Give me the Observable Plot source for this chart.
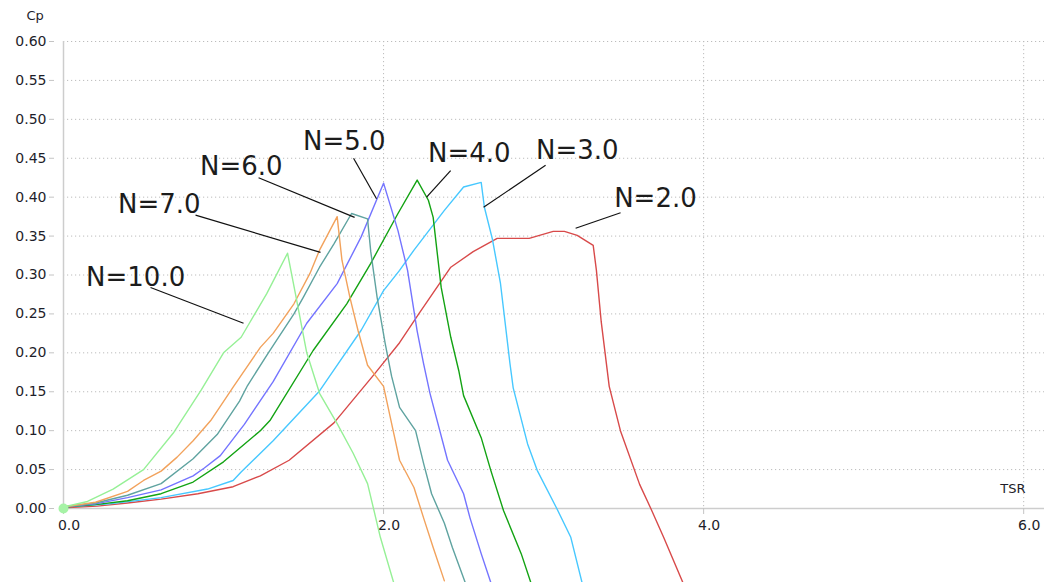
<!DOCTYPE html>
<html><head><meta charset="utf-8">
<script src="https://cdn.jsdelivr.net/npm/d3@7"></script>
<script src="https://cdn.jsdelivr.net/npm/@observablehq/plot@0.6"></script>
<style>html,body{margin:0;padding:0;background:#fff;overflow:hidden}</style>
</head><body><div id="chart"></div>
<script>
// ---- data ----
const seriesNames  = ["N=2.0", "N=3.0", "N=4.0", "N=5.0", "N=6.0", "N=7.0", "N=10.0"];
const seriesColors = ["#d84a4a", "#47c8ff", "#13a313", "#7474ff", "#5fa3a0", "#f2a25c", "#96f096"];

const tsr2 = [0, 0.21, 0.4, 0.61, 0.84, 1.06, 1.23, 1.41, 1.69, 1.94, 2.1, 2.22, 2.42, 2.56, 2.71, 2.91, 3.06, 3.13, 3.21, 3.31, 3.33, 3.36, 3.41, 3.48, 3.6, 3.67, 3.75, 3.87];
const cp2  = [0.001, 0.003, 0.007, 0.012, 0.019, 0.028, 0.042, 0.062, 0.11, 0.172, 0.213, 0.25, 0.31, 0.33, 0.347, 0.347, 0.356, 0.356, 0.351, 0.338, 0.306, 0.24, 0.157, 0.1, 0.031, 0, -0.037, -0.095];

const tsr3 = [0, 0.29, 0.61, 0.9, 1.06, 1.11, 1.31, 1.6, 1.69, 1.86, 2.0, 2.1, 2.19, 2.38, 2.5, 2.61, 2.63, 2.68, 2.73, 2.79, 2.81, 2.9, 2.96, 3.08, 3.17, 3.24];
const cp3  = [0.002, 0.006, 0.014, 0.025, 0.036, 0.047, 0.087, 0.151, 0.178, 0.229, 0.28, 0.306, 0.332, 0.383, 0.413, 0.419, 0.387, 0.346, 0.29, 0.186, 0.155, 0.083, 0.049, 0.001, -0.037, -0.095];

const tsr4 = [0, 0.2, 0.4, 0.61, 0.81, 1.0, 1.23, 1.29, 1.56, 1.77, 1.92, 2.09, 2.21, 2.28, 2.31, 2.36, 2.42, 2.47, 2.5, 2.61, 2.67, 2.75, 2.86, 2.92];
const cp4  = [0.002, 0.005, 0.01, 0.019, 0.034, 0.06, 0.1, 0.113, 0.203, 0.263, 0.315, 0.379, 0.422, 0.396, 0.374, 0.284, 0.22, 0.177, 0.145, 0.091, 0.049, -0.003, -0.058, -0.095];

const tsr5 = [0, 0.2, 0.4, 0.61, 0.81, 0.88, 0.98, 1.13, 1.31, 1.52, 1.71, 1.86, 2.0, 2.09, 2.15, 2.21, 2.25, 2.29, 2.4, 2.5, 2.54, 2.61, 2.67];
const cp5  = [0.002, 0.006, 0.014, 0.024, 0.042, 0.052, 0.068, 0.108, 0.163, 0.238, 0.289, 0.349, 0.418, 0.357, 0.306, 0.228, 0.186, 0.148, 0.062, 0.019, -0.012, -0.058, -0.095];

const tsr6 = [0, 0.2, 0.4, 0.61, 0.81, 0.96, 1.1, 1.15, 1.28, 1.44, 1.5, 1.6, 1.69, 1.8, 1.9, 1.92, 1.96, 2.01, 2.05, 2.1, 2.2, 2.25, 2.3, 2.38, 2.43, 2.51];
const cp6  = [0.002, 0.007, 0.017, 0.032, 0.064, 0.095, 0.138, 0.158, 0.2, 0.25, 0.272, 0.31, 0.34, 0.379, 0.372, 0.33, 0.271, 0.212, 0.17, 0.13, 0.1, 0.058, 0.019, -0.019, -0.05, -0.095];

const tsr7 = [0, 0.2, 0.4, 0.5, 0.61, 0.71, 0.81, 0.92, 1.06, 1.23, 1.31, 1.44, 1.54, 1.6, 1.71, 1.74, 1.79, 1.84, 1.9, 2.0, 2.06, 2.1, 2.19, 2.25, 2.31, 2.38];
const cp7  = [0.002, 0.008, 0.022, 0.036, 0.048, 0.066, 0.087, 0.113, 0.156, 0.207, 0.225, 0.263, 0.302, 0.332, 0.375, 0.319, 0.271, 0.229, 0.184, 0.157, 0.1, 0.062, 0.027, -0.012, -0.05, -0.093];

const tsr10 = [0, 0.15, 0.31, 0.5, 0.69, 0.86, 1.0, 1.11, 1.27, 1.4, 1.45, 1.52, 1.6, 1.71, 1.81, 1.9, 1.98, 2.07];
const cp10  = [0.002, 0.009, 0.025, 0.05, 0.098, 0.152, 0.2, 0.22, 0.276, 0.328, 0.275, 0.2, 0.148, 0.109, 0.071, 0.032, -0.037, -0.1];

const originTSR = [0];
const originCp  = [0];

// axis ticks
const yTicks = [0, 0.05, 0.1, 0.15, 0.2, 0.25, 0.3, 0.35, 0.4, 0.45, 0.5, 0.55, 0.6];
const xTicks = [0, 2, 4, 6];
const xGrid  = [2, 4, 6];

// annotations: label text, label anchor, leader line from/to
const labelText = ["N=10.0", "N=7.0", "N=6.0", "N=5.0", "N=4.0", "N=3.0", "N=2.0"];
const labelX    = [0.141, 0.341, 0.853, 1.497, 2.278, 2.953, 3.441];
const labelY    = [0.286, 0.380, 0.429, 0.461, 0.445, 0.449, 0.3875];
const leaderX1  = [0.544, 0.825, 1.219, 1.8125, 2.419, 3.0125, 3.481];
const leaderY1  = [0.284, 0.377, 0.425, 0.450, 0.434, 0.441, 0.380];
const leaderX2  = [1.125, 1.606, 1.819, 1.956, 2.269, 2.625, 3.2];
const leaderY2  = [0.238, 0.329, 0.374, 0.398, 0.400, 0.387, 0.360];

// ---- build tables ----
const seriesTSR = [tsr2, tsr3, tsr4, tsr5, tsr6, tsr7, tsr10];
const seriesCp  = [cp2, cp3, cp4, cp5, cp6, cp7, cp10];
const rows = seriesNames.flatMap((name, k) => seriesTSR[k].map((t, i) => ({series: name, tsr: t, cp: seriesCp[k][i]})));
const labels = labelText.map((t, i) => ({text: t, x: labelX[i], y: labelY[i], x1: leaderX1[i], y1: leaderY1[i], x2: leaderX2[i], y2: leaderY2[i]}));
const origin = originTSR.map((t, i) => ({tsr: t, cp: originCp[i]}));

const chart = Plot.plot({
  width: 1044, height: 582,
  marginLeft: 63, marginRight: 0, marginTop: 41, marginBottom: 74,
  style: {fontFamily: "DejaVu Sans", fontSize: "14px", color: "#1e1e2a", background: "#fff", overflow: "hidden"},
  x: {domain: [0, 6.13]},
  y: {domain: [0, 0.6]},
  color: {domain: seriesNames, range: seriesColors},
  marks: [
    Plot.gridY(yTicks.filter(d => d > 0), {stroke: "#bcbcbc", strokeOpacity: 1, strokeDasharray: "1.2,2.8"}),
    Plot.gridX(xGrid, {stroke: "#bcbcbc", strokeOpacity: 1, strokeDasharray: "1.2,2.8"}),
    Plot.ruleY([0], {stroke: "#cdcdcd", strokeWidth: 1.5}),
    Plot.ruleX([0], {stroke: "#cdcdcd", strokeWidth: 1.5}),
    Plot.axisY(yTicks, {tickSize: 5, tickPadding: 3, dx: -9, stroke: "#c4c4c4", tickFormat: d3.format(".2f"), label: null}),
    Plot.axisX(xTicks, {tickSize: 6, stroke: "#c4c4c4", tickFormat: () => "", label: null}),
    Plot.axisX(xTicks, {tickSize: 0, tickPadding: 12, dx: 5.5, tickFormat: d3.format(".1f"), label: null}),
    Plot.text(["Cp"], {frameAnchor: "top-left", dx: -37, dy: -26, textAnchor: "start", lineAnchor: "middle", fontSize: 13}),
    Plot.text(["TSR"], {frameAnchor: "bottom-right", dx: -19, dy: -20, textAnchor: "end", lineAnchor: "middle", fontSize: 13}),
    Plot.line(rows, {x: "tsr", y: "cp", z: "series", stroke: "series", strokeWidth: 1.4}),
    Plot.dot(origin, {x: "tsr", y: "cp", r: 5, fill: "#a6f3a6", stroke: "none"}),
    Plot.link(labels, {x1: "x1", y1: "y1", x2: "x2", y2: "y2", stroke: "#111", strokeWidth: 1.2}),
    Plot.text(labels, {x: "x", y: "y", text: "text", textAnchor: "start", lineAnchor: "bottom", fontSize: 26, fill: "#1c1c1c"})
  ]
});
document.getElementById("chart").append(chart);
</script>
</body></html>
